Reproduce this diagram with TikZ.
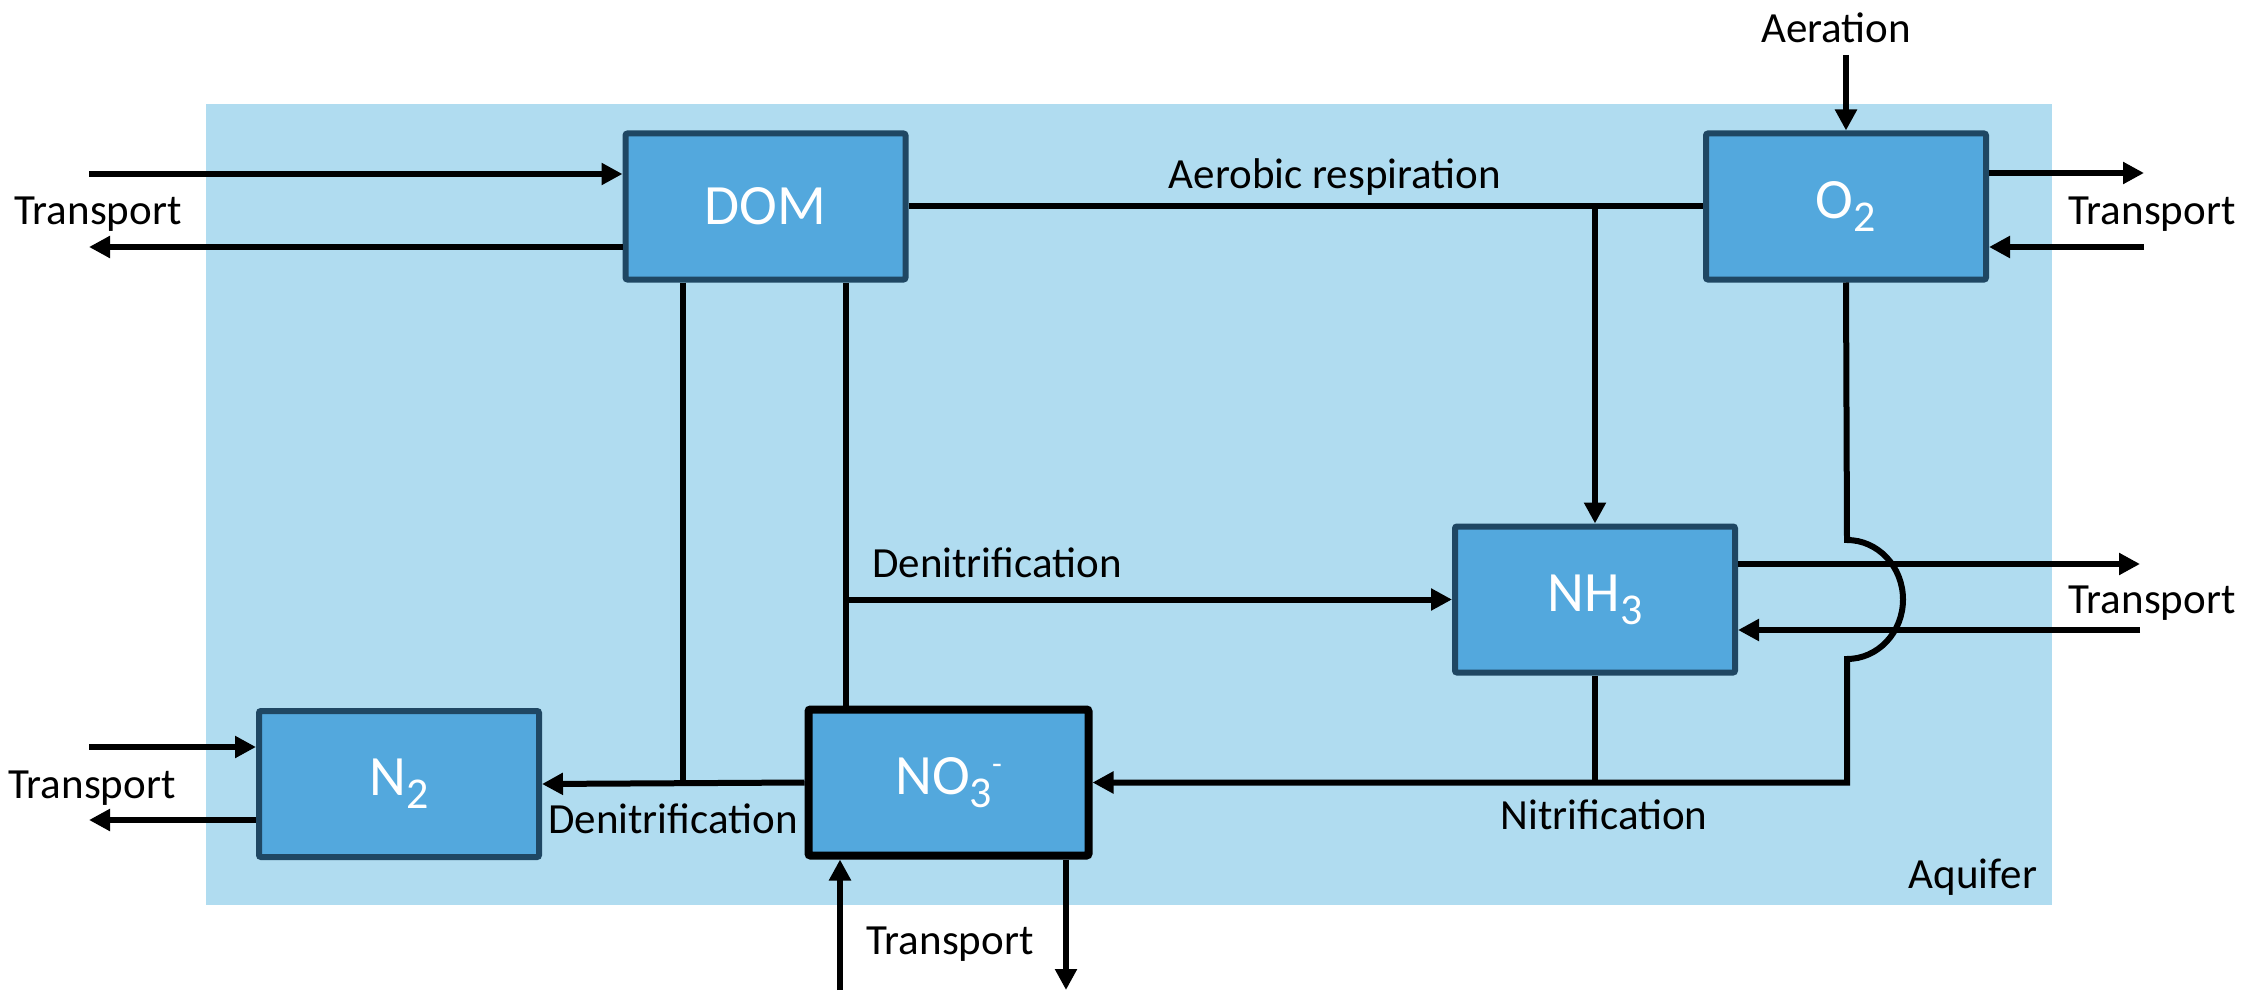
\documentclass[tikz,border=0pt]{standalone}
\usepackage{fontspec}
\setmainfont{Carlito}
\usetikzlibrary{arrows.meta}
\definecolor{aq}{RGB}{176,220,240}
\definecolor{boxfill}{RGB}{83,168,221}
\definecolor{boxline}{RGB}{31,71,99}
\newcommand\chemsub[1]{\raisebox{-6.5pt}{\fontsize{22}{26}\selectfont #1}}
\newcommand\chemsup[1]{\raisebox{10pt}{\fontsize{16}{20}\selectfont #1}}
\begin{document}
\begin{tikzpicture}[x=0.5pt,y=-0.5pt,
  species/.style={draw=boxline, line width=3pt, fill=boxfill, text=white,
    font=\fontsize{28.5}{34}\selectfont, minimum width=140pt, minimum height=73pt,
    inner sep=0pt, rounded corners=1pt},
  lab/.style={font=\fontsize{21.5}{26}\selectfont, inner sep=0pt},
  flow/.style={line width=3pt},
  arr/.style={flow, -{Triangle[length=10.5pt,width=10.5pt]}},
]
\useasboundingbox (0,0) rectangle (2256,1006);
\node[fill=aq, minimum width=923pt, minimum height=400.5pt, inner sep=0pt, draw=none] (aqf) at (1129,504.5) {};
\node[lab] (aqlab) at (1973,877) {Aquifer};

% species
\node[species] (dom) at (765.5,206.5) {DOM};
\node[species] (o2) at (1846,206.5) {O\chemsub{2}};
\node[species] (nh3) at (1595,599.5) {NH\chemsub{3}};
\node[species] (n2) at (399,784) {N\chemsub{2}};
\node[species, draw=black, line width=4pt] (no3) at (948.5,782.5) {NO\chemsub{3}\chemsup{-}};

% labels
\node[lab] (aer) at (1836,28) {Aeration};
\node[lab] (tdom) at (98,214) {Transport};
\node[lab] (aerresp) at (1335,177) {Aerobic respiration};
\node[lab] (to2) at (2152,214) {Transport};
\node[lab] (tnh3) at (2152,603) {Transport};
\node[lab] (den1) at (997,563) {Denitrification};
\node[lab] (den2) at (673,819) {Denitrification};
\node[lab] (tn2) at (92,788) {Transport};
\node[lab] (tno3) at (950,944) {Transport};
\node[lab] (nitr) at (1604,815) {Nitrification};

% free ends
\coordinate (domin) at (89,174);
\coordinate (domout) at (89,247);
\coordinate (o2out) at (2144,173);
\coordinate (o2in) at (2144,247);
\coordinate (aerin) at (1846,55);
\coordinate (nh3out) at (2140,564);
\coordinate (nh3in) at (2140,630);
\coordinate (n2in) at (89,747);
\coordinate (n2out) at (89,820);
\coordinate (no3in) at (840,990);
\coordinate (no3out) at (1066,990);
\coordinate (dl) at (683,782.5);
\coordinate (dj) at (846,599.5);
\coordinate (ar) at (1595,206.5);
\coordinate (jt) at (1847,540);

% transport arrows
\draw[arr] (domin) -- (domin -| dom.west);
\draw[arr] (domout -| dom.west) -- (domout);
\draw[arr] (o2out -| o2.east) -- (o2out);
\draw[arr] (o2in) -- (o2in -| o2.east);
\draw[arr] (aerin) -- (o2.north);
\draw[arr] (nh3out -| nh3.east) -- (nh3out);
\draw[arr] (nh3in) -- (nh3in -| nh3.east);
\draw[arr] (n2in) -- (n2in -| n2.west);
\draw[arr] (n2out -| n2.west) -- (n2out);
\draw[arr] (no3in) -- (no3in |- no3.south);
\draw[arr] (no3out |- no3.south) -- (no3out);

% aerobic respiration
\draw[flow] (dom.east) -- (o2.west);
\draw[arr] (ar) -- (nh3.north);

% denitrification
\draw[flow] (dl |- dom.south) -- (dl);
\draw[flow] (dj |- dom.south) -- (dj |- no3.north);
\draw[arr] (dj) -- (dj -| nh3.west);
\draw[arr] (no3.west) -- (n2.east);

% nitrification
\draw[arr] (o2.south) -- (jt) arc[start angle=90, end angle=-90, x radius=28pt, y radius=29.75pt] -- (jt |- no3.east) -- (no3.east);
\draw[flow] (nh3.south) -- (nh3.south |- no3.east);
\end{tikzpicture}
\end{document}
